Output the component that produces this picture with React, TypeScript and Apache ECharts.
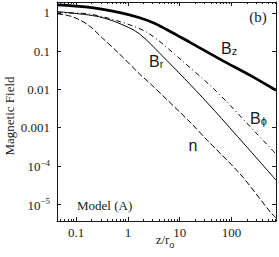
import React, { useEffect, useRef } from "react";
import * as echarts from "echarts";

// ---- data (z / r0, field value) ----
const bzData: [number, number][] = [
  [0.0428, 1.64], [0.168, 1.42], [0.7, 1.03], [1.63, 0.763], [3.33, 0.532],
  [7.11, 0.31], [15.8, 0.17], [65.9, 0.0575], [230, 0.0233], [721, 0.00947],
];
const brData: [number, number][] = [
  [0.0428, 1.09], [0.147, 0.914], [0.287, 0.786], [0.64, 0.555], [1.63, 0.292],
  [5.61, 0.0575], [15.8, 0.0136], [46.2, 0.00285], [184, 3.47e-4], [721, 4.24e-5],
];
const bphiData: [number, number][] = [
  [0.0428, 1.01], [0.147, 0.97], [0.64, 0.618], [2.44, 0.301], [10.9, 0.0575],
  [41.7, 0.01155], [82.4, 0.0046], [612, 2.57e-4], [721, 2.02e-4],
];
const nData: [number, number][] = [
  [0.0428, 0.953], [0.0631, 0.887], [0.0986, 0.74], [0.176, 0.472], [0.328, 0.216],
  [0.64, 0.0931], [1.71, 0.0248], [2.67, 0.0144], [17.3, 0.00123], [33.8, 4.69e-4],
  [147, 6.07e-5], [560, 6.18e-6], [721, 4.31e-6],
];

const xRange = [0.0428, 721];
const yRange = [3.6e-6, 1.94];
const xTickValues = [0.1, 1, 10, 100];
const xTickLabels = ["0.1", "1", "10", "100"];
const yTickValues = [1, 0.1, 0.01, 0.001, 1e-4, 1e-5];
const yTickLabels = ["1", "0.1", "0.01", "0.001", "10^-4", "10^-5"];

const SERIF = "Liberation Serif";
const SANS = "Liberation Sans";
const INK = "#1a1a1a";

const lg = (v: number) => Math.log10(v);
const toLog = (d: [number, number][]) => d.map(([z, v]) => [lg(z), lg(v)]);

function minorTicks(): number[] {
  const out: number[] = [];
  for (let d = -2; d <= 2; d++) {
    for (let k = 2; k <= 9; k++) {
      const v = lg(k * Math.pow(10, d));
      if (v > lg(xRange[0]) && v < lg(xRange[1])) out.push(v);
    }
  }
  return out;
}

function labelFor(values: number[], labels: string[], v: number): string {
  let best = 0;
  for (let i = 0; i < values.length; i++) {
    if (Math.abs(lg(values[i]) - v) < Math.abs(lg(values[best]) - v)) best = i;
  }
  const s = labels[best];
  if (s.includes("^")) {
    const [b, e] = s.split("^");
    return `{b|${b}}{s|${e.replace("-", "\u2212")}}`;
  }
  return `{b|${s}}`;
}

export default function App() {
  const ref = useRef<HTMLDivElement>(null);
  useEffect(() => {
    if (!ref.current) return;
    const chart = echarts.init(ref.current, undefined, { renderer: "svg" });
    const xMin = lg(xRange[0]);
    const xMax = lg(xRange[1]);
    const yMin = lg(yRange[0]);
    const yMax = lg(yRange[1]);
    const xMajor = xTickValues.map(lg);
    const yMajor = yTickValues.map(lg);
    const xMinor = minorTicks();
    const axisLine = { show: true, onZero: false, lineStyle: { color: INK, width: 1 } };
    const noLine = { show: false, onZero: false };
    const rich = {
      b: { fontFamily: SERIF, fontSize: 13, color: INK, verticalAlign: "bottom" as const },
      s: { fontFamily: SERIF, fontSize: 9, color: INK, verticalAlign: "bottom" as const, padding: [0, 0, 6, 0] },
    };
    const baseX = { type: "value" as const, min: xMin, max: xMax, splitLine: { show: false } };
    const baseY = { type: "value" as const, min: yMin, max: yMax, splitLine: { show: false } };

    const option: any = {
      animation: false,
      grid: { left: 57, right: 3, top: 2, bottom: 36, containLabel: false, outerBoundsMode: "none" },
      xAxis: [
        {
          ...baseX, position: "bottom", axisLine,
          axisTick: { show: true, inside: true, length: 4, customValues: xMajor, lineStyle: { color: INK } },
          axisLabel: {
            show: true, customValues: xMajor, margin: 5, rich,
            fontFamily: SERIF, fontSize: 13, color: INK,
            formatter: (v: number) => labelFor(xTickValues, xTickLabels, v),
          },
        },
        {
          ...baseX, position: "bottom", axisLine: noLine,
          axisTick: { show: true, inside: true, length: 2, customValues: xMinor, lineStyle: { color: INK } },
          axisLabel: { show: false },
        },
        {
          ...baseX, position: "top", axisLine,
          axisTick: { show: true, inside: true, length: 4, customValues: xMajor, lineStyle: { color: INK } },
          axisLabel: { show: false },
        },
        {
          ...baseX, position: "top", axisLine: noLine,
          axisTick: { show: true, inside: true, length: 2, customValues: xMinor, lineStyle: { color: INK } },
          axisLabel: { show: false },
        },
      ],
      yAxis: [
        {
          ...baseY, position: "left", axisLine,
          axisTick: { show: true, inside: true, length: 4, customValues: yMajor, lineStyle: { color: INK } },
          axisLabel: {
            show: true, customValues: yMajor, margin: 7, rich,
            fontFamily: SERIF, fontSize: 13, color: INK,
            formatter: (v: number) => labelFor(yTickValues, yTickLabels, v),
          },
        },
        {
          ...baseY, position: "right", axisLine,
          axisTick: { show: true, inside: true, length: 4, customValues: yMajor, lineStyle: { color: INK } },
          axisLabel: { show: false },
        },
      ],
      series: [
        {
          name: "Bz", type: "line", data: toLog(bzData), showSymbol: false, smooth: 0.3,
          lineStyle: { color: "#000", width: 2.8 },
        },
        {
          name: "Br", type: "line", data: toLog(brData), showSymbol: false, smooth: 0.3,
          lineStyle: { color: "#000", width: 1 },
        },
        {
          name: "Bphi", type: "line", data: toLog(bphiData), showSymbol: false, smooth: 0.3,
          lineStyle: { color: "#000", width: 1, type: [5, 3, 1, 3] },
        },
        {
          name: "n", type: "line", data: toLog(nData), showSymbol: false, smooth: 0.3,
          lineStyle: { color: "#000", width: 1, type: [6, 2.5] },
        },
      ],
      graphic: [
        {
          type: "text", x: 258, y: 17,
          style: { text: "(b)", fontFamily: SERIF, fontSize: 15, fill: INK, align: "center", verticalAlign: "middle" },
        },
        {
          type: "text", x: 221, y: 56,
          style: {
            text: "{b|B}{s|z}", align: "left", verticalAlign: "bottom",
            rich: {
              b: { fontFamily: SANS, fontSize: 16, fill: INK, verticalAlign: "bottom" },
              s: { fontFamily: SANS, fontSize: 11, fill: INK, verticalAlign: "bottom" },
            },
          },
        },
        {
          type: "text", x: 149, y: 69,
          style: {
            text: "{b|B}{s|r}", align: "left", verticalAlign: "bottom",
            rich: {
              b: { fontFamily: SANS, fontSize: 16, fill: INK, verticalAlign: "bottom" },
              s: { fontFamily: SANS, fontSize: 11, fill: INK, verticalAlign: "bottom" },
            },
          },
        },
        {
          type: "text", x: 250, y: 126,
          style: {
            text: "{b|B}{s|\u03D5}", align: "left", verticalAlign: "bottom",
            rich: {
              b: { fontFamily: SANS, fontSize: 16, fill: INK, verticalAlign: "bottom" },
              s: { fontFamily: SANS, fontSize: 11, fill: INK, verticalAlign: "bottom" },
            },
          },
        },
        {
          type: "text", x: 193, y: 145,
          style: { text: "n", fontFamily: SANS, fontSize: 16, fill: INK, align: "center", verticalAlign: "middle" },
        },
        {
          type: "text", x: 77, y: 205,
          style: { text: "Model (A)", fontFamily: SERIF, fontSize: 13, fill: INK, align: "left", verticalAlign: "middle" },
        },
        {
          type: "text", x: 9, y: 116, rotation: Math.PI / 2,
          style: { text: "Magnetic Field", fontFamily: SERIF, fontSize: 13, fill: INK, align: "center", verticalAlign: "middle" },
        },
        {
          type: "text", x: 165, y: 249,
          style: {
            text: "{b|z/r}{s|o}", align: "center", verticalAlign: "bottom",
            rich: {
              b: { fontFamily: SERIF, fontSize: 13, fill: INK, verticalAlign: "bottom", padding: [0, 0, 3, 0] },
              s: { fontFamily: SANS, fontSize: 9, fill: INK, verticalAlign: "bottom" },
            },
          },
        },
      ],
    };
    chart.setOption(option);
    return () => chart.dispose();
  }, []);
  return (
    <div
      ref={ref}
      style={{ position: "fixed", left: 0, top: 0, width: 279, height: 257, background: "#fff" }}
    />
  );
}
